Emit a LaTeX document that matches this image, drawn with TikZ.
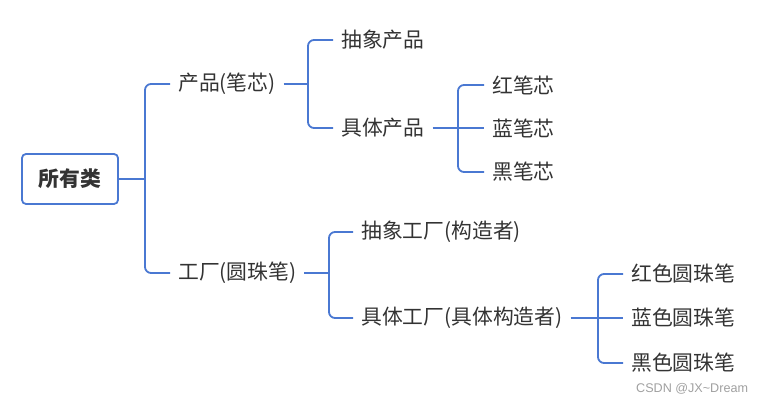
\documentclass[tikz,border=0pt]{standalone}
\usepackage{fontspec}
\setmainfont{Noto Sans CJK SC}
\newfontfamily\wmfont{Liberation Sans}
\definecolor{linec}{HTML}{4A78D2}
\definecolor{textc}{HTML}{333333}
\definecolor{wmc}{HTML}{A0A0A0}
\newcommand{\dn}[1]{\raisebox{-1.5pt}{#1}}
\begin{document}
\begin{tikzpicture}[x=1pt,y=-1pt,
  conn/.style={draw=linec,line width=1.8pt,rounded corners=6pt},
  leaf/.style={anchor=west,inner xsep=8pt,inner ysep=0pt,text=textc,font=\fontsize{20.8}{22}\selectfont},
  rootbox/.style={draw=linec,line width=1.8pt,rounded corners=4pt,minimum width=96pt,minimum height=50pt,text=textc,font=\fontsize{20.8}{22}\selectfont\bfseries}]
\useasboundingbox (0,0) rectangle (764,403);
\node[rootbox] (root) at (70,179) {\dn{所有类}};
\coordinate (j0) at (145,179);
\node[leaf] (p) at (170,84) {\dn{产品(笔芯)}};
\node[leaf] (f) at (170,273) {\dn{工厂(圆珠笔)}};
\coordinate (j1) at (308,84);
\node[leaf] (ap) at (333,40) {\dn{抽象产品}};
\node[leaf] (cp) at (333,128) {\dn{具体产品}};
\coordinate (j2) at (458,128);
\node[leaf] (r1) at (484,85) {\dn{红笔芯}};
\node[leaf] (r2) at (484,128) {\dn{蓝笔芯}};
\node[leaf] (r3) at (484,172) {\dn{黑笔芯}};
\coordinate (j3) at (329,273);
\node[leaf] (af) at (353,232) {\dn{抽象工厂(构造者)}};
\node[leaf] (cf) at (353,318) {\dn{具体工厂(具体构造者)}};
\coordinate (j4) at (598,318);
\node[leaf] (q1) at (623,274) {\dn{红色圆珠笔}};
\node[leaf] (q2) at (623,318) {\dn{蓝色圆珠笔}};
\node[leaf] (q3) at (623,363) {\dn{黑色圆珠笔}};
\node[anchor=west,inner sep=0pt,text=wmc,font=\wmfont\fontsize{12.6}{14}\selectfont] (wm) at (636,389) {CSDN @JX\textasciitilde Dream};
% connectors
\draw[conn] (root.east) -- (j0);
\draw[conn] (j0) |- (p.west);
\draw[conn] (j0) |- (f.west);
\draw[conn] (p.east) -- (j1);
\draw[conn] (j1) |- (ap.west);
\draw[conn] (j1) |- (cp.west);
\draw[conn] (cp.east) -- (j2);
\draw[conn] (j2) |- (r1.west);
\draw[conn] (j2) -- (r2.west);
\draw[conn] (j2) |- (r3.west);
\draw[conn] (f.east) -- (j3);
\draw[conn] (j3) |- (af.west);
\draw[conn] (j3) |- (cf.west);
\draw[conn] (cf.east) -- (j4);
\draw[conn] (j4) |- (q1.west);
\draw[conn] (j4) -- (q2.west);
\draw[conn] (j4) |- (q3.west);
\end{tikzpicture}
\end{document}
